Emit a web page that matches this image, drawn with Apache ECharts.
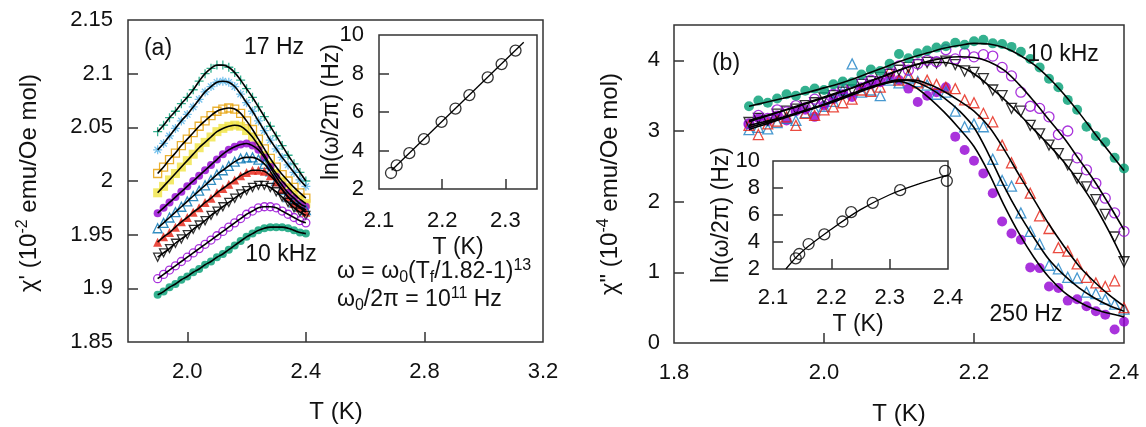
<!DOCTYPE html>
<html><head><meta charset="utf-8">
<script src="https://cdn.jsdelivr.net/npm/echarts@6/dist/echarts.min.js"></script>
<style>html,body{margin:0;padding:0;background:#fff}#c{width:1146px;height:427px}</style>
</head><body><div id="c"></div>
<script>
// ---------- Panel (a): chi' vs T ----------
const tA = [1.90,1.92,1.94,1.96,1.98,2.00,2.02,2.04,2.06,2.08,2.10,2.12,2.14,2.16,2.18,2.20,2.22,2.24,2.26,2.28,2.30,2.32,2.34,2.36,2.38,2.40];
const a17Hz   = [2.046,2.052,2.059,2.065,2.072,2.078,2.085,2.093,2.100,2.105,2.108,2.108,2.106,2.101,2.094,2.086,2.078,2.069,2.060,2.051,2.042,2.033,2.024,2.016,2.008,2.000];
const aSky    = [2.029,2.035,2.042,2.049,2.056,2.062,2.069,2.076,2.083,2.088,2.092,2.093,2.092,2.088,2.081,2.073,2.065,2.056,2.047,2.038,2.030,2.022,2.015,2.008,2.001,1.995];
const aOrange = [2.007,2.013,2.020,2.026,2.033,2.039,2.045,2.051,2.056,2.061,2.065,2.067,2.068,2.067,2.063,2.056,2.048,2.039,2.030,2.021,2.013,2.006,2.000,1.994,1.989,1.984];
const aYellow = [1.989,1.995,2.001,2.007,2.013,2.019,2.025,2.031,2.036,2.041,2.046,2.049,2.051,2.052,2.051,2.047,2.041,2.033,2.024,2.015,2.007,2.000,1.994,1.988,1.983,1.979];
const aPurpleF= [1.970,1.975,1.980,1.985,1.990,1.995,2.000,2.005,2.010,2.015,2.020,2.025,2.029,2.032,2.034,2.035,2.033,2.029,2.022,2.013,2.004,1.996,1.989,1.984,1.979,1.976];
const aBlue   = [1.956,1.961,1.966,1.971,1.976,1.981,1.986,1.991,1.996,2.001,2.006,2.010,2.014,2.018,2.021,2.022,2.022,2.020,2.016,2.009,2.000,1.992,1.985,1.980,1.976,1.973];
const aRed    = [1.943,1.948,1.952,1.957,1.962,1.966,1.971,1.975,1.980,1.984,1.989,1.993,1.997,2.001,2.005,2.008,2.010,2.010,2.009,2.005,1.999,1.992,1.985,1.979,1.975,1.971];
const aBlack  = [1.929,1.933,1.937,1.942,1.946,1.950,1.955,1.959,1.963,1.968,1.972,1.976,1.980,1.984,1.988,1.991,1.994,1.996,1.996,1.994,1.990,1.985,1.980,1.975,1.971,1.968];
const aPurpleO= [1.909,1.913,1.917,1.921,1.925,1.929,1.933,1.937,1.941,1.945,1.949,1.953,1.957,1.961,1.965,1.969,1.972,1.975,1.976,1.976,1.975,1.972,1.969,1.966,1.963,1.961];
const a10kHz  = [1.894,1.897,1.901,1.904,1.908,1.911,1.915,1.918,1.922,1.925,1.929,1.932,1.936,1.940,1.944,1.948,1.951,1.954,1.956,1.957,1.957,1.957,1.956,1.954,1.952,1.951];

// inset (a)
const insA_T = [2.119,2.128,2.148,2.171,2.199,2.221,2.243,2.272,2.294,2.316];
const insA_V = [2.83,3.23,3.86,4.59,5.49,6.18,6.88,7.80,8.49,9.19];
const insA_fitT = [2.120,2.329];
const insA_fitV = [2.97,9.62];

// ---------- Panel (b): chi'' vs T ----------
const tB = [1.9,1.9125,1.925,1.9375,1.95,1.9625,1.975,1.9875,2.0,2.0125,2.025,2.0375,2.05,2.0625,2.075,2.0875,2.1,2.1125,2.125,2.1375,2.15,2.1625,2.175,2.1875,2.2,2.2125,2.225,2.2375,2.25,2.2625,2.275,2.2875,2.3,2.3125,2.325,2.3375,2.35,2.3625,2.375,2.3875,2.4];
const b10kHz = [3.35,3.43,3.40,3.46,3.52,3.50,3.57,3.60,3.58,3.66,3.70,3.69,3.80,3.87,3.85,3.95,4.09,4.03,4.10,4.14,4.18,4.20,4.25,4.22,4.27,4.29,4.24,4.23,4.19,4.12,4.02,3.90,3.74,3.62,3.44,3.30,3.06,2.93,2.84,2.62,2.47];
const bPurpleO = [3.10,3.22,3.18,3.30,3.27,3.36,3.33,3.45,3.40,3.52,3.60,3.56,3.68,3.72,3.70,3.82,3.92,3.86,3.95,4.00,3.98,4.15,4.02,4.10,4.05,4.08,4.06,3.90,3.78,3.55,3.35,3.32,3.20,2.95,3.00,2.62,2.45,2.26,2.05,1.84,1.58];
const bBlack = [3.12,3.18,3.15,3.24,3.28,3.31,3.36,3.40,3.47,3.50,3.55,3.58,3.66,3.70,3.76,3.80,3.86,3.90,3.94,3.97,3.96,3.99,3.94,3.85,3.83,3.74,3.58,3.50,3.32,3.28,3.08,2.96,2.80,2.68,2.52,2.33,2.21,2.03,1.82,1.50,1.15];
const bRed = [3.08,2.95,3.10,3.14,3.20,3.08,3.25,3.22,3.30,3.34,3.40,3.45,3.58,3.56,3.62,3.85,3.72,3.80,3.68,3.72,3.66,3.62,3.60,3.44,3.40,3.25,3.13,2.80,2.55,2.33,2.12,1.80,1.62,1.35,1.30,1.12,0.93,0.85,0.80,0.88,0.50];
const bBlue = [3.02,3.05,3.03,3.12,3.18,3.15,3.26,3.30,3.35,3.42,3.58,3.95,3.55,3.58,3.50,3.72,3.68,3.75,3.70,3.65,3.52,3.55,3.28,3.06,3.10,3.06,2.60,2.30,2.22,1.84,1.58,1.40,1.10,1.05,0.93,0.92,0.72,0.70,0.62,0.55,0.48];
const b250Hz = [3.10,3.18,3.14,3.22,3.15,3.28,3.30,3.20,3.36,3.45,3.52,3.48,3.62,3.66,3.70,3.76,3.72,3.60,3.41,3.50,3.55,3.62,2.92,2.73,2.58,2.40,2.12,1.72,1.55,1.46,1.07,1.06,0.80,0.78,0.60,0.62,0.52,0.45,0.40,0.19,0.30];

// fit curves (b)
const tBfit = [1.90,1.92,1.94,1.96,1.98,2.00,2.02,2.04,2.06,2.08,2.10,2.12,2.14,2.16,2.18,2.20,2.22,2.24,2.26,2.28,2.30,2.32,2.34,2.36,2.38,2.40];
const fit10kHz  = [3.35,3.40,3.45,3.50,3.55,3.61,3.67,3.74,3.82,3.90,3.98,4.05,4.11,4.17,4.21,4.24,4.23,4.18,4.08,3.94,3.75,3.52,3.26,2.98,2.71,2.44];
const fitPurpleO= [3.13,3.20,3.27,3.34,3.41,3.48,3.55,3.62,3.70,3.78,3.86,3.93,3.99,4.03,4.05,4.04,3.98,3.86,3.66,3.42,3.16,2.90,2.60,2.30,1.96,1.60];
const fitBlack  = [3.15,3.21,3.27,3.33,3.40,3.47,3.54,3.62,3.70,3.78,3.86,3.93,3.97,3.97,3.92,3.81,3.64,3.45,3.24,3.02,2.80,2.56,2.28,1.96,1.58,1.15];
const fitRed    = [3.08,3.13,3.18,3.24,3.30,3.37,3.44,3.52,3.60,3.67,3.72,3.72,3.66,3.56,3.43,3.28,3.06,2.74,2.38,2.03,1.68,1.37,1.09,0.87,0.68,0.52];
const fitBlue   = [3.05,3.11,3.17,3.24,3.31,3.38,3.46,3.54,3.62,3.68,3.72,3.70,3.61,3.47,3.29,3.05,2.66,2.22,1.83,1.49,1.18,0.96,0.78,0.64,0.53,0.45];
const fit250Hz  = [3.02,3.09,3.16,3.23,3.30,3.37,3.45,3.53,3.61,3.67,3.70,3.63,3.47,3.27,3.04,2.78,2.40,1.95,1.55,1.21,0.93,0.72,0.58,0.48,0.42,0.37];

// inset (b)
const insB_T = [2.139,2.145,2.161,2.188,2.219,2.234,2.271,2.318,2.395,2.398];
const insB_V = [2.79,3.11,3.85,4.56,5.52,6.21,6.90,7.84,9.27,8.53];
const insB_fitT = [2.122,2.15,2.20,2.25,2.30,2.35,2.40];
const insB_fitV = [2.0,3.30,4.95,6.40,7.50,8.30,8.95];

// ---------- chart ----------
const FONT = 'Liberation Sans, Arial, sans-serif';
const TXT = '#111';
const zip = (t, v) => t.map((x, i) => [x, v[i]]);
const PLUS = 'path://M5,0V10M0,5H10';
const STAR = 'path://M5,0V10M0,5H10M1.5,1.5L8.5,8.5M8.5,1.5L1.5,8.5';
const TRIDOWN = 'path://M0,0H10L5,8.66Z';

function pts(name, xi, t, v, symbol, size, color, filled) {
  return {
    type: 'scatter', name, xAxisIndex: xi, yAxisIndex: xi, data: zip(t, v),
    symbol, symbolSize: size, z: 3, silent: true,
    itemStyle: filled ? { color: color } : { color: 'none', borderColor: color, borderWidth: 1.3 }
  };
}
function fit(xi, t, v, w, sm) {
  return {
    type: 'line', xAxisIndex: xi, yAxisIndex: xi, data: zip(t, v), smooth: sm === undefined ? 0.35 : sm,
    showSymbol: false, symbol: 'none', z: 5, silent: true,
    lineStyle: { color: '#000', width: w || 1.6 }
  };
}
function axisX(gi, min, max, labels, ticks, margin) {
  return {
    type: 'value', gridIndex: gi, min, max,
    axisLine: { show: false }, splitLine: { show: false },
    axisTick: { show: true, inside: true, length: 10, customValues: ticks, lineStyle: { color: '#333', width: 1.5 } },
    axisLabel: { customValues: labels, formatter: v => v.toFixed(1), margin, fontSize: 22, color: TXT, fontFamily: FONT }
  };
}
function axisY(gi, min, max, labels, ticks, margin, fmt) {
  return {
    type: 'value', gridIndex: gi, min, max,
    axisLine: { show: false }, splitLine: { show: false },
    axisTick: { show: true, inside: true, length: 10, customValues: ticks, lineStyle: { color: '#333', width: 1.5 } },
    axisLabel: { customValues: labels, formatter: fmt, margin, fontSize: 22, color: TXT, fontFamily: FONT }
  };
}
const fmtNum = v => String(Math.round(v * 100) / 100);

const rich = {
  n: { fontSize: 23, lineHeight: 28, fontFamily: FONT, color: TXT },
  t: { fontSize: 24, lineHeight: 28, fontFamily: FONT, color: TXT },
  sup: { fontSize: 16, lineHeight: 15, fontFamily: FONT, color: TXT, verticalAlign: 'top' },
  sub: { fontSize: 16, lineHeight: 15, fontFamily: FONT, color: TXT, verticalAlign: 'bottom' }
};
function txt(x, y, text, opts) {
  opts = opts || {};
  return {
    type: 'text', x, y, rotation: opts.rot || 0, z: 50, silent: true,
    style: { text, rich, fontSize: opts.size || 23, fontFamily: FONT, fill: TXT,
      align: opts.align || 'center', verticalAlign: 'middle' }
  };
}

const grids = [
  { left: 128, top: 20, width: 415, height: 322 },
  { left: 379, top: 35, width: 158, height: 154, backgroundColor: '#fff' },
  { left: 674, top: 25, width: 450, height: 318 },
  { left: 773, top: 161, width: 175, height: 108, backgroundColor: '#fff' }
].map(g => Object.assign({ show: true, borderColor: '#333', borderWidth: 1.5, containLabel: false }, g));

const option = {
  animation: false,
  backgroundColor: '#fff',
  grid: grids,
  xAxis: [
    axisX(0, 1.8, 3.2, [2.0, 2.4, 2.8, 3.2], [2.0, 2.4, 2.8], 19),
    axisX(1, 2.1, 2.35, [2.1, 2.2, 2.3], [2.2, 2.3], 21),
    axisX(2, 1.8, 2.4, [1.8, 2.0, 2.2, 2.4], [2.0, 2.2], 19),
    axisX(3, 2.1, 2.4, [2.1, 2.2, 2.3, 2.4], [2.2, 2.3], 18)
  ],
  yAxis: [
    axisY(0, 1.85, 2.15, [1.85, 1.9, 1.95, 2, 2.05, 2.1, 2.15], [1.9, 1.95, 2, 2.05, 2.1], 15, fmtNum),
    axisY(1, 2, 10, [2, 4, 6, 8, 10], [4, 6, 8], 15, fmtNum),
    axisY(2, 0, 4.5, [0, 1, 2, 3, 4], [1, 2, 3, 4], 14, fmtNum),
    axisY(3, 2, 10, [2, 4, 6, 8, 10], [4, 6, 8], 13, fmtNum)
  ],
  series: [
    pts('17 Hz', 0, tA, a17Hz, PLUS, 9, '#009e73', false),
    pts('s2', 0, tA, aSky, STAR, 9, '#56b4e9', false),
    pts('s3', 0, tA, aOrange, 'rect', 8, '#e69f00', false),
    pts('s4', 0, tA, aYellow, 'rect', 9, '#f0e442', true),
    pts('s5', 0, tA, aPurpleF, 'circle', 8, '#9400d3', true),
    pts('s6', 0, tA, aBlue, 'triangle', 9, '#0072b2', false),
    pts('s7', 0, tA, aRed, 'triangle', 9, '#e51e10', true),
    pts('s8', 0, tA, aBlack, TRIDOWN, 8, '#000', false),
    pts('s9', 0, tA, aPurpleO, 'circle', 8, '#9400d3', false),
    pts('10 kHz', 0, tA, a10kHz, 'circle', 8, '#009e73', true),
    fit(0, tA, a17Hz), fit(0, tA, aSky), fit(0, tA, aOrange), fit(0, tA, aYellow), fit(0, tA, aPurpleF),
    fit(0, tA, aBlue), fit(0, tA, aRed), fit(0, tA, aBlack), fit(0, tA, aPurpleO), fit(0, tA, a10kHz),

    pts('insA', 1, insA_T, insA_V, 'circle', 11, '#000', false),
    fit(1, insA_fitT, insA_fitV, 1.3, false),

    pts('b250', 2, tB, b250Hz, 'circle', 10, '#9400d3', true),
    pts('bBlue', 2, tB, bBlue, 'triangle', 10, '#1a80c4', false),
    pts('bRed', 2, tB, bRed, 'triangle', 10, '#e51e10', false),
    pts('bBlack', 2, tB, bBlack, TRIDOWN, 10, '#000', false),
    pts('bPurpleO', 2, tB, bPurpleO, 'circle', 10, '#9400d3', false),
    pts('b10k', 2, tB, b10kHz, 'circle', 10, '#009e73', true),
    fit(2, tBfit, fit10kHz), fit(2, tBfit, fitPurpleO), fit(2, tBfit, fitBlack),
    fit(2, tBfit, fitRed), fit(2, tBfit, fitBlue), fit(2, tBfit, fit250Hz),

    pts('insB', 3, insB_T, insB_V, 'circle', 11, '#000', false),
    fit(3, insB_fitT, insB_fitV, 1.3)
  ],
  graphic: [
    txt(29, 183, "{t|χ' (10}{sup|-2}{t| emu/Oe mol)}", { rot: Math.PI / 2 }),
    txt(336, 412, '{t|T (K)}'),
    txt(158, 49, '{n|(a)}'),
    txt(274, 48, '17 Hz'),
    txt(281, 255, '10 kHz'),
    txt(337, 272, '{n|ω = ω}{sub|0}{n|(T}{sub|f}{n|/1.82-1)}{sup|13}', { align: 'left' }),
    txt(337, 300, '{n|ω}{sub|0}{n|/2π = 10}{sup|11}{n| Hz}', { align: 'left' }),
    txt(332, 112, '{n|ln(ω/2π) (Hz)}', { rot: Math.PI / 2 }),
    txt(458, 248, '{n|T (K)}'),

    txt(610, 184, '{t|χ" (10}{sup|-4}{t| emu/Oe mol)}', { rot: Math.PI / 2 }),
    txt(899, 414, '{t|T (K)}'),
    txt(726, 64, '{n|(b)}'),
    txt(1063, 55, '10 kHz'),
    txt(1026, 315, '250 Hz'),
    txt(722, 215, '{n|ln(ω/2π) (Hz)}', { rot: Math.PI / 2 }),
    txt(858, 325, '{n|T (K)}')
  ]
};
const chart = echarts.init(document.getElementById('c'), null, { renderer: 'canvas' });
chart.setOption(option);
</script>
</body></html>
